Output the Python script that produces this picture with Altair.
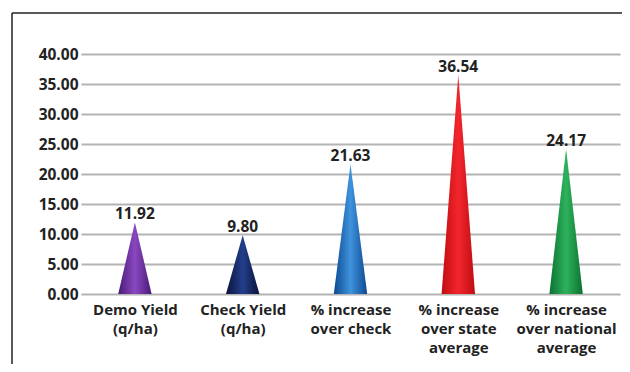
import altair as alt
import pandas as pd

categories = [
    ["Demo Yield", "(q/ha)"],
    ["Check Yield", "(q/ha)"],
    ["% increase", "over check"],
    ["% increase", "over state", "average"],
    ["% increase", "over national", "average"],
]
values = [11.92, 9.80, 21.63, 36.54, 24.17]
dark_colors = ["#4a1a78", "#0a1238", "#0c4a92", "#c00d12", "#0c7232"]
light_colors = ["#8a48c0", "#233f8c", "#3f93dc", "#f2262c", "#2eb25c"]
y_ticks = [0, 5, 10, 15, 20, 25, 30, 35, 40]

HALF = 0.155  # half base width of each cone, in category units (style)

rows = []
for i, v in enumerate(values):
    rows.append({"i": i, "x": i - HALF, "y": 0.0})
    rows.append({"i": i, "x": float(i), "y": v})
    rows.append({"i": i, "x": i + HALF, "y": 0.0})
tri = pd.DataFrame(rows)
lab = pd.DataFrame({"i": list(range(len(values))), "v": values,
                    "t": [f"{v:.2f}" for v in values]})

FONT = "Open Sans"
label_js = "[" + ",".join("[" + ",".join("'" + s + "'" for s in c) + "]" for c in categories) + "]"

xscale = alt.Scale(domain=[-0.5, len(values) - 0.5], nice=False, zero=False)
yscale = alt.Scale(domain=[0, 40], nice=False)

xaxis = alt.Axis(
    values=list(range(len(values))), labelExpr=label_js + "[datum.value]",
    ticks=False, domain=False, grid=False, title=None,
    labelFont=FONT, labelFontSize=15, labelFontWeight="bold",
    labelColor="#222222", labelPadding=8, labelLineHeight=19,
)
yaxis = alt.Axis(
    values=y_ticks, format=".2f", ticks=False, domain=False, title=None,
    grid=True, gridColor="#b4b4b4", gridWidth=2,
    labelFont=FONT, labelFontSize=15.5, labelFontWeight="bold",
    labelColor="#222222", labelPadding=3,
)

layers = []
for i in range(len(values)):
    grad = alt.LinearGradient(
        gradient="linear", x1=0, x2=1, y1=0, y2=0,
        stops=[
            alt.GradientStop(color=dark_colors[i], offset=0),
            alt.GradientStop(color=light_colors[i], offset=0.5),
            alt.GradientStop(color=dark_colors[i], offset=1),
        ],
    )
    layers.append(
        alt.Chart(tri).mark_area(fill=grad, opacity=1)
        .transform_filter(alt.datum.i == i)
        .encode(x=alt.X("x:Q", scale=xscale, axis=xaxis),
                y=alt.Y("y:Q", scale=yscale, axis=yaxis))
    )

text = alt.Chart(lab).mark_text(
    font=FONT, fontSize=15.5, fontWeight="bold", color="#222222",
    baseline="alphabetic", dy=-3,
).encode(x=alt.X("i:Q", scale=xscale, axis=xaxis),
         y=alt.Y("v:Q", scale=yscale, axis=yaxis), text="t:N")

one = pd.DataFrame({"a": [0]})
top_rule = alt.Chart(one).mark_rule(color="#222222", strokeWidth=1.5).encode(
    x=alt.value(-69), x2=alt.value(560), y=alt.value(-41))
left_rule = alt.Chart(one).mark_rule(color="#222222", strokeWidth=1.5).encode(
    x=alt.value(-69), y=alt.value(-41), y2=alt.value(340))

chart = alt.layer(*layers, text, top_rule, left_rule).properties(
    width=539, height=240,
    autosize=alt.AutoSizeParams(type="none"),
    padding={"left": 73, "top": 46, "right": 2, "bottom": 70},
    background="white",
).configure_view(stroke=None)

chart.save("out.html", embed_options={"renderer": "svg", "actions": False})
